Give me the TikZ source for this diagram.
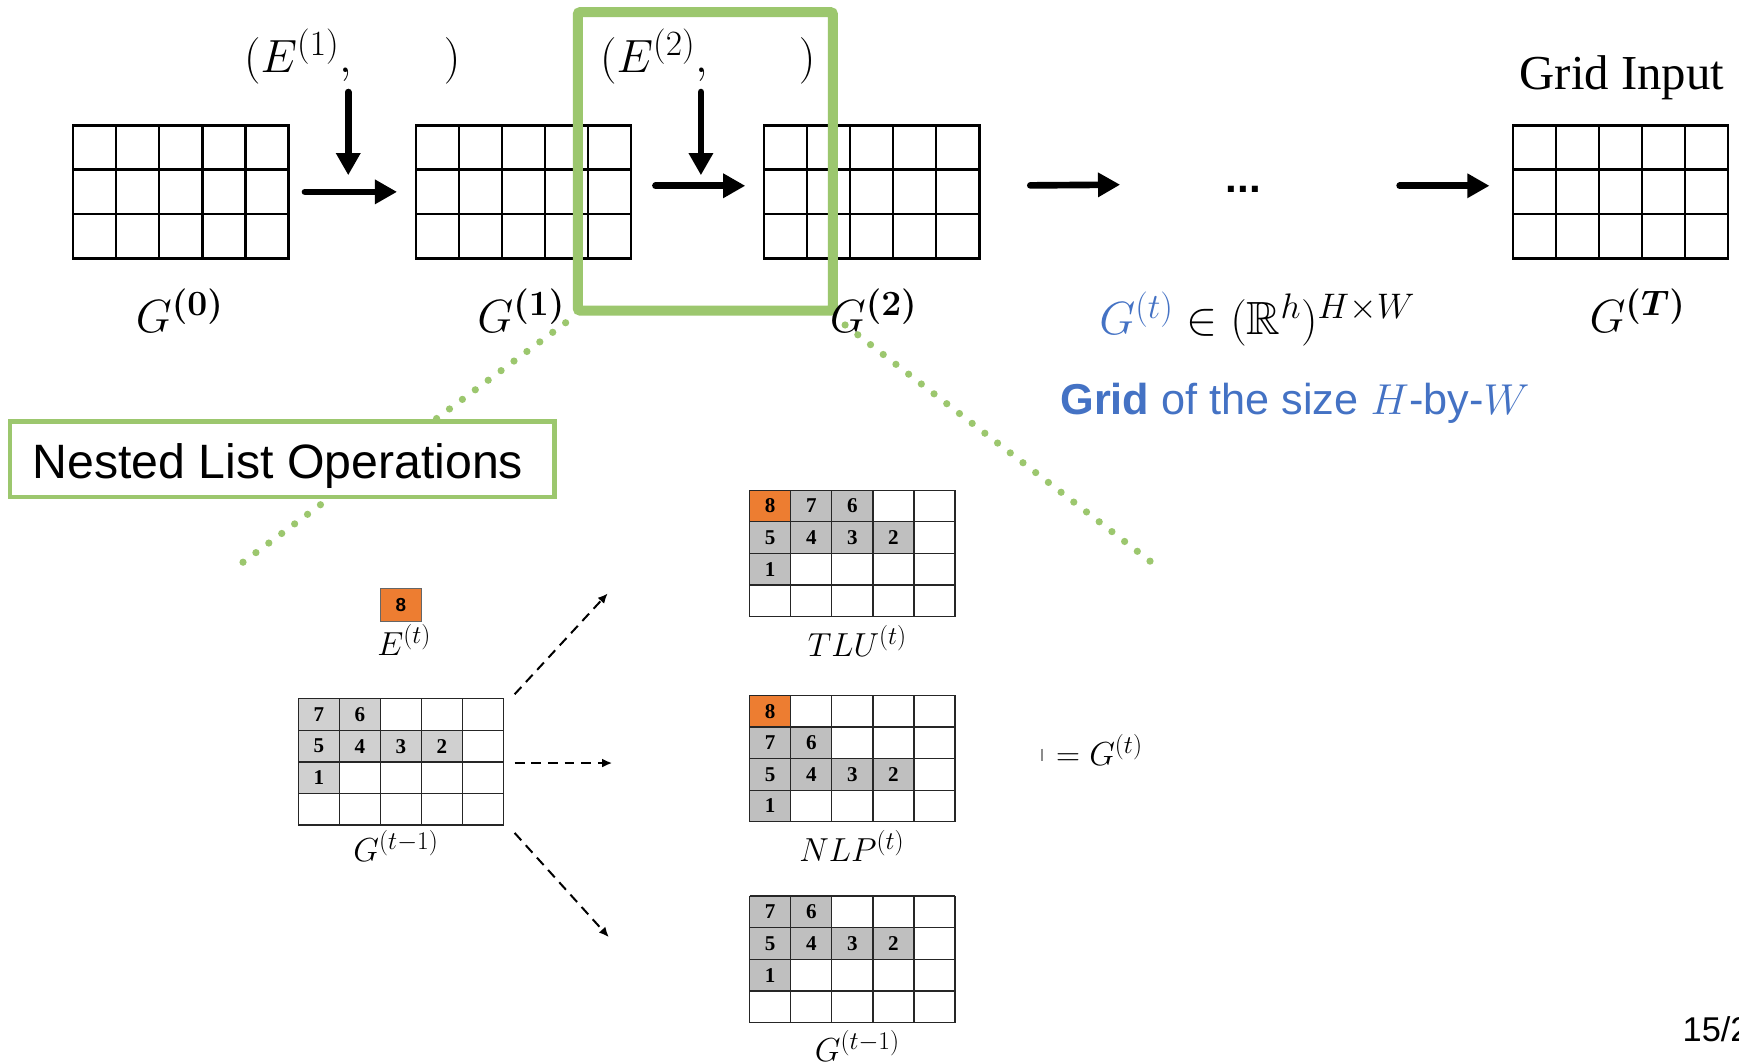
\RequirePackage{fix-cm}
\documentclass[tikz,border=0pt]{standalone}
\usepackage{amsmath,amssymb}
\usepackage{fontspec}
\setmainfont{Liberation Sans}
\newfontfamily\timesface{Liberation Serif}
\usetikzlibrary{arrows.meta,calc}
\DeclareMathSizes{42}{42}{32}{24}
\DeclareMathSizes{30}{30}{23}{17}

\definecolor{hlgreen}{RGB}{156,199,110}
\definecolor{mblue}{RGB}{68,114,196}
\definecolor{cellorange}{RGB}{237,125,49}
\definecolor{cellgray}{RGB}{191,191,191}
\definecolor{cellgraylt}{RGB}{208,208,208}

% 5x3 grid of the main sequence: name, centre x, centre y
\newcommand\seqgrid[3]{%
  \node[topgridbox] (#1) at (#2,#3) {};
  \foreach \i in {1,...,4}
    \draw[topline] ($(#1.north west)+(\i*38.8,0)$) -- ++(0,120);
  \foreach \j in {1,2}
    \draw[topline] ($(#1.north west)+(0,\j*40)$) -- ++(194,0);
}

% 5x4 grid with numbered cells: name, centre x, centre y, cells col/row/colour/text
\newcommand\listgrid[4]{%
  \node[lowbox] (#1) at (#2,#3) {};
  \foreach \c/\r/\col/\txt in {#4} {
    \fill[\col] ($(#1.north west)+(\c*37,\r*28.5)$) rectangle ++(37,28.5);
    \node[digit] (#1-\c-\r) at ($(#1.north west)+(\c*37+18.5,\r*28.5+14.25)$) {\txt};
  }
  \foreach \i in {0,...,5}
    \draw[lowline] ($(#1.north west)+(\i*37,0)$) -- ++(0,114);
  \foreach \j in {0,...,4}
    \draw[lowline] ($(#1.north west)+(0,\j*28.5)$) -- ++(185,0);
}

\begin{document}
\begin{tikzpicture}[x=1pt,y=-1pt,
  topgridbox/.style={draw,line width=2.2pt,minimum width=194pt,minimum height=120pt,inner sep=0pt,outer sep=0pt},
  topline/.style={line width=2.2pt},
  lowbox/.style={minimum width=185pt,minimum height=114pt,inner sep=0pt,outer sep=0pt},
  lowline/.style={line width=1.2pt,black!85},
  digit/.style={inner sep=0pt,font=\fontsize{19}{21}\selectfont\timesface\bfseries},
  fatarrow/.style={line width=6pt,line cap=round,-{Triangle[length=20pt,width=21pt]}},
  dasharrow/.style={line width=1.8pt,dash pattern=on 9pt off 6pt,-{Latex[length=9pt,width=8pt]}},
  greendots/.style={hlgreen,line width=6.5pt,line cap=round,dash pattern=on 0pt off 14.49pt},
  mathbig/.style={inner sep=0pt,font=\fontsize{42}{50}\selectfont},
  mathmid/.style={inner sep=0pt,font=\fontsize{30}{36}\selectfont},
  label/.style={inner sep=0pt}]

\useasboundingbox (0,0) rectangle (1568,959);
\clip (0,0) rectangle (1568,959);
\fill[white] (0,0) rectangle (1568,959);

% ---- sequence of grids ----
\seqgrid{g0}{163}{173}
\seqgrid{g1}{472}{173}
\seqgrid{g2}{786}{173}
\seqgrid{gT}{1461}{173}

\node[label,font=\fontsize{38}{40}\selectfont\bfseries,anchor=base] (dots) at (1121,174) {...};

% transitions
\draw[fatarrow,shorten <=15pt,shorten >=17pt] (g0.east) -- (g1.west);
\draw[fatarrow,shorten <=22pt,shorten >=17pt] ([yshift=5.5pt]g1.east) -- ([yshift=5.5pt]g2.west);
\draw[fatarrow,shorten <=46pt,shorten >=111pt] ([yshift=5.5pt]g2.east) -- ([yshift=5.5pt]dots.center);
\coordinate (preT) at (1262,167.5);
\draw[fatarrow,shorten >=21pt] (preT) -- ([yshift=5.5pt]gT.west);

% inputs
\node[mathbig,anchor=base west] (in1) at (220,65) {$(E^{(1)},$};
\node[mathbig,anchor=base west] (in1r) at (400,65) {$)$};
\node[mathbig,anchor=base west] (in2) at (541,65) {$(E^{(2)},$};
\node[mathbig,anchor=base west] (in2r) at (720,65) {$)$};
\coordinate (e1top) at (314,83);
\coordinate (e1tip) at (314,158);
\coordinate (e2top) at (632,83);
\coordinate (e2tip) at (632,158);
\draw[fatarrow] (e1top) -- (e1tip);
\draw[fatarrow] (e2top) -- (e2tip);

% focus frame around one step
\node[draw=hlgreen,line width=9pt,rounded corners=2pt,minimum width=230pt,minimum height=269pt,inner sep=0pt,outer sep=0pt] (focus) at (636,145.5) {};

% grid labels
\node[mathbig,anchor=base] (l0) at (162,300) {$G^{\boldsymbol{(0)}}$};
\node[mathbig,anchor=base] (l1) at (470,300) {$G^{\boldsymbol{(1)}}$};
\node[mathbig,anchor=base west] (l2) at (748,300) {$G^{\boldsymbol{(2)}}$};
\node[mathbig,anchor=base west] (lT) at (1433,300) {$G^{\boldsymbol{(T)}}$};
\node[label,font=\fontsize{44}{50}\selectfont\timesface,anchor=base west] (gin) at (1370,81) {Grid Input};
\node[mathbig,anchor=base west] (space) at (991,302) {$\textcolor{mblue}{G^{(t)}}\in(\mathbb{R}^{h})^{H\times W}$};
\node[label,text=mblue,font=\fontsize{39}{45}\selectfont,anchor=base west] (desc) at (956,374) {\textbf{Grid} of the size $H$-by-$W$};

% zoom lines towards the detail view
\coordinate (zl1) at (510,291);
\coordinate (zl2) at (219,507);
\coordinate (zr1) at (762,293);
\coordinate (zr2) at (1037,506);
\draw[greendots] (zl1) -- (zl2);
\draw[greendots] (zr1) -- (zr2);

\node[draw=hlgreen,line width=4pt,fill=white,minimum width=491pt,minimum height=68pt,inner sep=0pt,outer sep=0pt] (nlo) at (254.5,414) {};
\node[label,font=\fontsize{43.5}{50}\selectfont,anchor=base west] (nlotext) at (29,431) {Nested List Operations};

% ---- detail of one step ----
\node[draw=black!60,line width=1pt,fill=cellorange,minimum width=37pt,minimum height=29pt,inner sep=0pt,font=\fontsize{17}{19}\selectfont\bfseries] (ebox) at (361.5,545.5) {8};
\node[mathmid,anchor=base west] (elab) at (340,591) {$E^{(t)}$};

\listgrid{gprev}{361.5}{687}{0/0/cellgraylt/7,1/0/cellgraylt/6,0/1/cellgraylt/5,1/1/cellgraylt/4,2/1/cellgraylt/3,3/1/cellgraylt/2,0/2/cellgraylt/1}
\node[mathmid,anchor=base] (gprevlab) at (357,777) {$G^{(t-1)}$};

\listgrid{tlu}{768.5}{499}{0/0/cellorange/8,1/0/cellgray/7,2/0/cellgray/6,0/1/cellgray/5,1/1/cellgray/4,2/1/cellgray/3,3/1/cellgray/2,0/2/cellgray/1}
\node[mathmid,anchor=base] (tlulab) at (773,592) {$TLU^{(t)}$};

\listgrid{nlp}{768.5}{684}{0/0/cellorange/8,0/1/cellgray/7,1/1/cellgray/6,0/2/cellgray/5,1/2/cellgray/4,2/2/cellgray/3,3/2/cellgray/2,0/3/cellgray/1}
\node[mathmid,anchor=base] (nlplab) at (768,777) {$NLP^{(t)}$};

\listgrid{gsame}{768.5}{865}{0/0/cellgray/7,1/0/cellgray/6,0/1/cellgray/5,1/1/cellgray/4,2/1/cellgray/3,3/1/cellgray/2,0/2/cellgray/1}
\node[mathmid,anchor=base] (gsamelab) at (773,957) {$G^{(t-1)}$};

% the three alternatives
\coordinate (dup) at (548,535);
\coordinate (dmid) at (552,688);
\coordinate (ddown) at (549,845);
\draw[dasharrow] ($(gprev.north east)+(10,-4)$) -- (dup);
\draw[dasharrow] ($(gprev.east)+(10,1)$) -- (dmid);
\draw[dasharrow] ($(gprev.south east)+(10,7)$) -- (ddown);

\coordinate (tk1) at (939.5,675);
\coordinate (tk2) at (939.5,686);
\draw[black!45,line width=1.2pt] (tk1) -- (tk2);
\node[mathmid,anchor=base west] (eqg) at (952,690) {$=G^{(t)}$};

\node[label,font=\fontsize{31}{36}\selectfont,anchor=base west] (pageno) at (1517,939) {15/2};

\end{tikzpicture}
\end{document}
